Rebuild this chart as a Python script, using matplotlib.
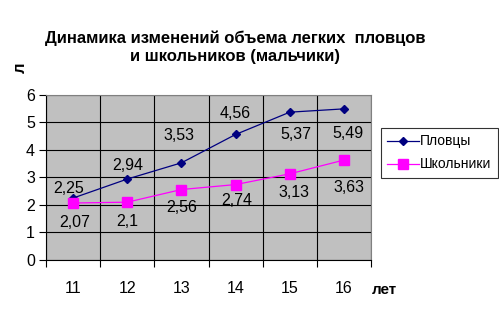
import numpy as np
import matplotlib
matplotlib.use("Agg")
import matplotlib.pyplot as plt

plt.rcParams["font.family"] = ["Liberation Sans", "DejaVu Sans"]

# ── data ─────────────────────────────────────────────────────────────────────
ages = ["11", "12", "13", "14", "15", "16"]
swimmers = [2.25, 2.94, 3.53, 4.56, 5.37, 5.49]
pupils = [2.07, 2.10, 2.56, 2.74, 3.13, 3.63]
swimmer_labels = ["2,25", "2,94", "3,53", "4,56", "5,37", "5,49"]
pupil_labels = ["2,07", "2,1", "2,56", "2,74", "3,13", "3,63"]

# label offsets (pixels) as placed in the original
sw_off = [(-4, 10), (0, 14), (-2, 27), (0, 21), (6, -22), (4, -25)]
pu_off = [(2, -19), (0, -19), (0, -18), (1, -16), (4, -19), (5, -27)]

NAVY = "#000080"
MAG = "#ff00ff"

fig = plt.figure(figsize=(4.99, 3.14), dpi=100)
ax = fig.add_axes([0.0922, 0.172, 0.6513, 0.526])
ax.set_facecolor("#c0c0c0")

x = np.arange(len(ages))
ax.plot(x, swimmers, color=NAVY, lw=0.9, marker="D", ms=4.5,
        mfc=NAVY, mec=NAVY, label="Пловцы", zorder=3)
ax.plot(x, pupils, color=MAG, lw=0.9, marker="s", ms=6.5,
        mfc=MAG, mec=MAG, label="Школьники", zorder=3)

for xi, yi, t, (dx, dy) in zip(x, swimmers, swimmer_labels, sw_off):
    ax.annotate(t, (xi, yi), xytext=(dx * 0.72, dy * 0.72), textcoords="offset points",
                ha="center", va="center", fontsize=11.5)
for xi, yi, t, (dx, dy) in zip(x, pupils, pupil_labels, pu_off):
    ax.annotate(t, (xi, yi), xytext=(dx * 0.72, dy * 0.72), textcoords="offset points",
                ha="center", va="center", fontsize=11.5)

ax.set_xlim(-0.5, len(ages) - 0.5)
ax.set_ylim(0, 6)
ax.set_yticks(range(0, 7))
ax.set_yticklabels([str(v) for v in range(0, 7)], fontsize=11.5)
ax.set_xticks(np.arange(-0.5, len(ages), 1.0))
ax.set_xticklabels([])
ax.set_xticks(x, minor=True)
ax.set_xticklabels(ages, minor=True, fontsize=11.5)
ax.tick_params(axis="x", which="minor", length=0, pad=15)
ax.tick_params(axis="x", which="major", length=5, width=0.8, direction="out")
ax.tick_params(axis="y", length=5, width=0.8, direction="out", pad=3)
ax.grid(True, which="major", color="black", lw=0.8)
ax.set_axisbelow(True)
for s in ["top", "right"]:
    ax.spines[s].set_color("#808080")
for s in ["left", "bottom"]:
    ax.spines[s].set_color("black")

fig.text(0.471, 0.85, "Динамика изменений объема легких  пловцов\nи школьников (мальчики)",
         ha="center", va="center", fontsize=12, fontweight="bold", linespacing=1.2)
fig.text(0.04, 0.785, "л", rotation=90, ha="center", va="center",
         fontsize=12, fontweight="bold")
fig.text(0.77, 0.075, "лет", ha="center", va="center", fontsize=11, fontweight="bold")

leg = fig.legend(loc="upper left", bbox_to_anchor=(0.763, 0.592), fontsize=10,
                 frameon=True, fancybox=False, edgecolor="black", handlelength=2.3,
                 handletextpad=0.1, borderpad=0.45, labelspacing=0.65, borderaxespad=0)
leg.get_frame().set_linewidth(0.8)

fig.savefig("out.png", dpi=100, facecolor="white")
